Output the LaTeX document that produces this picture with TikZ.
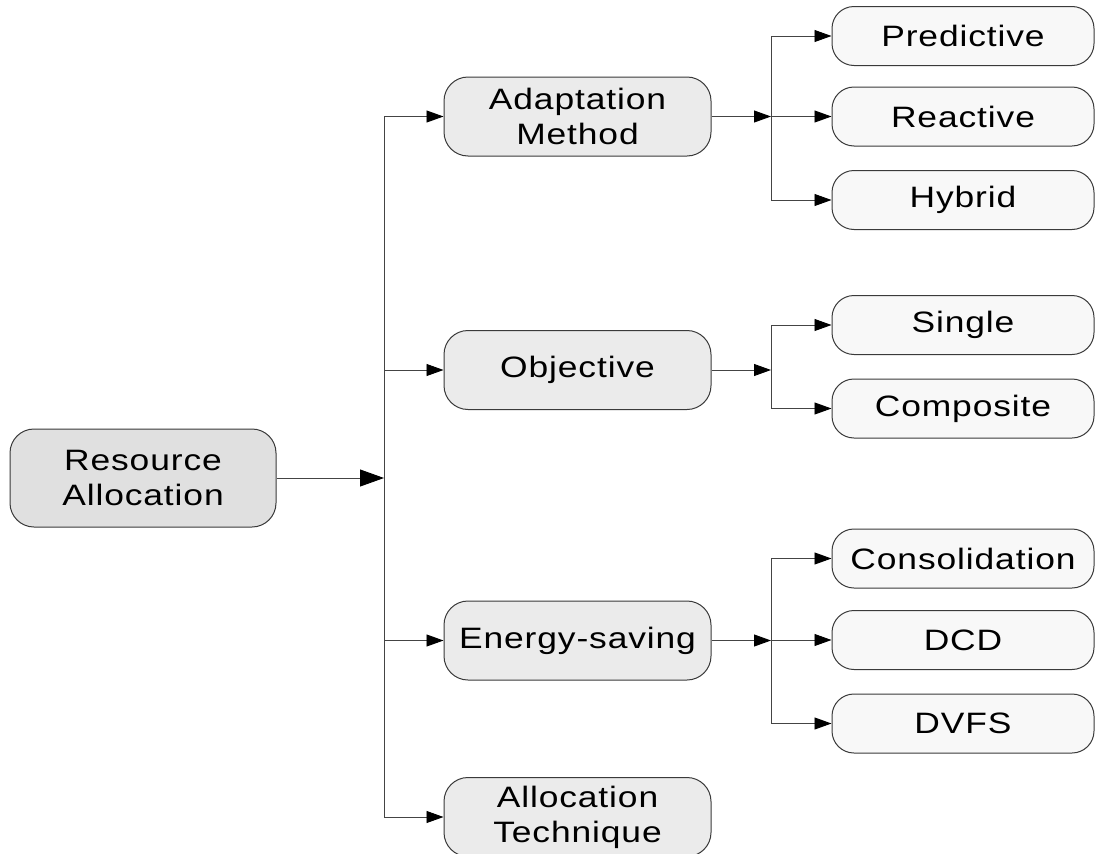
\documentclass[tikz,border=0pt]{standalone}
\usepackage{fontspec}
\setmainfont{Liberation Sans}[FakeStretch=1.2, LetterSpace=3]
\usetikzlibrary{arrows.meta}
\definecolor{rootfill}{HTML}{E0E0E0}
\definecolor{midfill}{HTML}{EBEBEB}
\definecolor{leaffill}{HTML}{F8F8F8}
\definecolor{edgegray}{HTML}{3A3A3A}
\definecolor{linkgray}{HTML}{444444}
\begin{document}
\begin{tikzpicture}[x=1pt,y=-1pt,
  box/.style={draw=edgegray, line width=1pt, rounded corners=24pt, align=center,
    font=\fontsize{29.5}{35}\selectfont, inner sep=0pt},
  rootbox/.style={box, fill=rootfill, minimum width=266pt, minimum height=98pt},
  midbox/.style={box, fill=midfill, minimum width=267pt, minimum height=79pt},
  leafbox/.style={box, fill=leaffill, rounded corners=22pt, minimum width=262pt, minimum height=59pt},
  link/.style={draw=linkgray, line width=0.9pt},
  tip/.style={link, -{Triangle[length=17pt,width=12pt,color=black]}},
  bigtip/.style={link, -{Triangle[length=24pt,width=17pt,color=black]}}
]
\useasboundingbox (0,0) rectangle (1096,854);

% root
\node[rootbox] (root) at (143,478) {Resource\\Allocation};

% second level
\node[midbox] (adapt) at (577.5,116.5) {Adaptation\\Method};
\node[midbox] (obj)   at (577.5,370)   {Objective};
\node[midbox] (energy) at (577.5,640.5) {Energy-saving};
\node[midbox] (tech)  at (577.5,817)   {Allocation\\Technique};

% leaves
\node[leafbox] (pred)  at (963,36)    {Predictive};
\node[leafbox] (react) at (963,116.5) {Reactive};
\node[leafbox] (hyb)   at (963,200)   {Hybrid};
\node[leafbox] (single) at (963,325)  {Single};
\node[leafbox] (comp)  at (963,408.5) {Composite};
\node[leafbox] (cons)  at (963,558.5) {Consolidation};
\node[leafbox] (dcd)   at (963,640)   {DCD};
\node[leafbox] (dvfs)  at (963,723.5) {DVFS};

% main trunk
\coordinate (trunk) at (384,116.5);
\draw[link] (trunk) -- (trunk |- tech);
\draw[bigtip] (root.east) -- (root.east -| trunk);
\draw[tip] (trunk) -- (adapt.west);
\draw[tip] (trunk |- obj) -- (obj.west);
\draw[tip] (trunk |- energy) -- (energy.west);
\draw[tip] (trunk |- tech) -- (tech.west);

% adaptation method branch
\coordinate (sa) at (771,116.5);
\draw[tip] (adapt.east) -- (sa);
\draw[link] (sa |- pred) -- (sa |- hyb);
\draw[tip] (sa |- pred) -- (pred.west);
\draw[tip] (sa |- react) -- (react.west);
\draw[tip] (sa |- hyb) -- (hyb.west);

% objective branch
\coordinate (so) at (771,370);
\draw[tip] (obj.east) -- (so);
\draw[link] (so |- single) -- (so |- comp);
\draw[tip] (so |- single) -- (single.west);
\draw[tip] (so |- comp) -- (comp.west);

% energy-saving branch
\coordinate (se) at (771,640.5);
\draw[tip] (energy.east) -- (se);
\draw[link] (se |- cons) -- (se |- dvfs);
\draw[tip] (se |- cons) -- (cons.west);
\draw[tip] (se |- dcd) -- (dcd.west);
\draw[tip] (se |- dvfs) -- (dvfs.west);
\end{tikzpicture}
\end{document}
